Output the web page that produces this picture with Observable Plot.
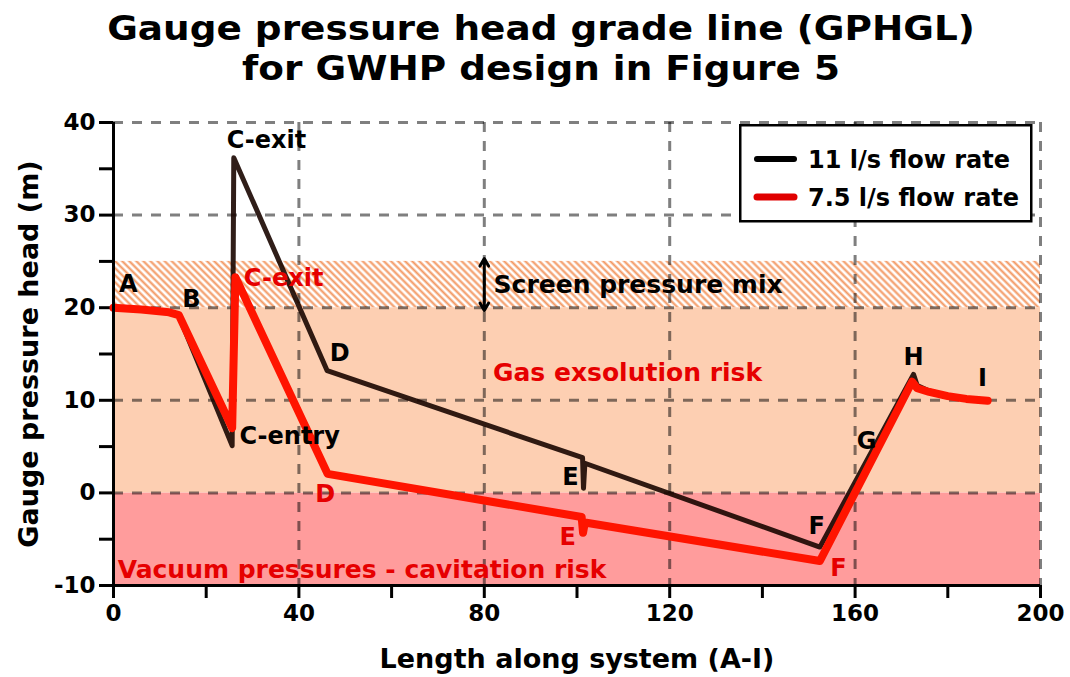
<!DOCTYPE html>
<html>
<head>
<meta charset="utf-8">
<script src="https://cdn.jsdelivr.net/npm/d3@7"></script>
<script src="https://cdn.jsdelivr.net/npm/@observablehq/plot@0.6"></script>
<style>
  body { margin: 0; background: #fff; }
  #wrap { position: relative; width: 1070px; height: 677px; font-family: "DejaVu Sans", sans-serif; font-weight: bold; color: #000; }
  #title { height: 100px; box-sizing: border-box; padding-top: 8px; padding-left: 12px; font-size: 34px; line-height: 40px; }
  #title div { text-align: center; transform: scaleX(1.1); white-space: nowrap; }
  #legend { position: absolute; left: 739px; top: 124px; }
  svg g[aria-label^="x-axis"] line, svg g[aria-label^="x-axis"] path,
  svg g[aria-label^="y-axis"] line, svg g[aria-label^="y-axis"] path { stroke: #000; stroke-width: 3px; }
</style>
</head>
<body>
<div id="wrap">
  <div id="title"><div>Gauge pressure head grade line (GPHGL)</div><div>for GWHP design in Figure 5</div></div>
  <div id="chart"></div>
  <svg id="legend" width="296" height="100" xmlns="http://www.w3.org/2000/svg"></svg>
</div>
<script>
// ---- axis domains and ticks ----
const xDomain = [0, 200];
const yDomain = [-10, 40];
const xTicks = [0, 20, 40, 60, 80, 100, 120, 140, 160, 180, 200];
const xTickLabels = ["0", "", "40", "", "80", "", "120", "", "160", "", "200"];
const yTicks = [-10, -5, 0, 5, 10, 15, 20, 25, 30, 35, 40];
const yTickLabels = ["-10", "", "0", "", "10", "", "20", "", "30", "", "40"];
const gridX = [40, 80, 120, 160, 200];
const gridY = [0, 10, 20, 30, 40];

// ---- series ----
const seriesNames = ["11 l/s flow rate", "7.5 l/s flow rate"];
const flow11X = [0, 6, 12, 14.1, 25.6, 25.95, 46.1, 101.2, 101.4, 101.7, 152.4, 172.6, 173.4, 176, 180, 184, 188.6];
const flow11Y = [20.0, 19.8, 19.5, 19.1, 5.1, 36.2, 13.2, 3.8, 0.5, 3.2, -5.85, 12.8, 11.6, 11.0, 10.5, 10.2, 10.0];
const flow75X = [0, 6, 12, 14.1, 25.6, 26.3, 46.2, 101.0, 101.3, 101.7, 152.4, 172.3, 173.4, 176, 180, 184, 188.6];
const flow75Y = [20.0, 19.8, 19.5, 19.2, 7.0, 23.3, 2.05, -2.6, -4.3, -3.2, -7.35, 12.0, 11.3, 10.9, 10.45, 10.15, 9.95];

// ---- zones ----
const zoneY1 = [-10, 0, 20];
const zoneY2 = [0, 20, 25];
const zoneFill = ["#ff9c9c", "#fdcfb2", "url(#hatch)"];

// ---- point labels ----
const labels11 = ["A", "B", "C-exit", "C-entry", "D", "E", "F", "G", "H", "I"];
const labels11X = [3.2, 16.8, 33.0, 38.0, 48.8, 98.6, 151.7, 162.5, 172.6, 187.5];
const labels11Y = [22.5, 20.9, 38.1, 6.1, 15.1, 1.7, -3.6, 5.6, 14.6, 12.4];
const labels75 = ["C-exit", "D", "E", "F"];
const labels75X = [36.7, 45.7, 98.0, 156.4];
const labels75Y = [23.2, -0.1, -4.8, -8.1];

// ---- zone notes ----
const noteGas = "Gas exsolution risk";
const noteGasX = 110.9, noteGasY = 12.9;
const noteVac = "Vacuum pressures - cavitation risk";
const noteVacX = 0.9, noteVacY = -8.3;
const noteScreen = "Screen pressure mix";
const noteScreenX = 82.0, noteScreenY = 22.5;
const arrowX = [80, 80];
const arrowFrom = [22.5, 22.5];
const arrowTo = [25.3, 19.7];

const xLabel = "Length along system (A-I)";
const yLabel = "Gauge pressure head (m)";

// ---- build tables ----
const rows11 = flow11X.map((x, i) => ({x, y: flow11Y[i]}));
const rows75 = flow75X.map((x, i) => ({x, y: flow75Y[i]}));
const lab11 = labels11.map((t, i) => ({t, x: labels11X[i], y: labels11Y[i]}));
const lab75 = labels75.map((t, i) => ({t, x: labels75X[i], y: labels75Y[i]}));
const arrows = arrowX.map((x, i) => ({x, y1: arrowFrom[i], y2: arrowTo[i]}));

const RED_LINE = "#ff1400";
const RED_TEXT = "#e60000";

const zoneMarks = zoneY1.map((y1, i) => Plot.rect([i], {
  x1: () => xDomain[0], x2: () => xDomain[1], y1: () => y1, y2: () => zoneY2[i], fill: zoneFill[i]
}));

const chart = Plot.plot({
  width: 1070, height: 577,
  marginTop: 22, marginBottom: 92, marginLeft: 113, marginRight: 30,
  style: {fontFamily: "DejaVu Sans", fontWeight: "bold", fontSize: "23px", background: "transparent", overflow: "visible", color: "#000"},
  x: {domain: xDomain, ticks: xTicks, tickFormat: d => xTickLabels[xTicks.indexOf(d)], tickSize: 13, tickPadding: 6, label: null},
  y: {domain: yDomain, ticks: yTicks, tickFormat: d => yTickLabels[yTicks.indexOf(d)], tickSize: 14, tickPadding: 4, label: null},
  marks: [
    ...zoneMarks,
    Plot.ruleX(gridX, {stroke: "#000", strokeOpacity: 0.5, strokeWidth: 3, strokeDasharray: "10,9"}),
    Plot.ruleY(gridY, {stroke: "#000", strokeOpacity: 0.5, strokeWidth: 3, strokeDasharray: "10,9"}),
    Plot.line(rows11, {x: "x", y: "y", stroke: "#1a0500", strokeOpacity: 0.9, strokeWidth: 5, strokeLinejoin: "round", strokeLinecap: "round"}),
    Plot.line(rows75, {x: "x", y: "y", stroke: RED_LINE, strokeWidth: 8, strokeLinejoin: "round", strokeLinecap: "round"}),
    Plot.text(lab11, {x: "x", y: "y", text: "t", fill: "#000", fontSize: 24, fontWeight: "bold"}),
    Plot.text(lab75, {x: "x", y: "y", text: "t", fill: RED_TEXT, fontSize: 24, fontWeight: "bold"}),
    Plot.text([noteGas], {x: () => noteGasX, y: () => noteGasY, text: d => d, fill: RED_TEXT, fontSize: 25, fontWeight: "bold"}),
    Plot.text([noteVac], {x: () => noteVacX, y: () => noteVacY, text: d => d, fill: RED_TEXT, fontSize: 25, fontWeight: "bold", textAnchor: "start"}),
    Plot.text([noteScreen], {x: () => noteScreenX, y: () => noteScreenY, text: d => d, fill: "#000", fontSize: 25, fontWeight: "bold", textAnchor: "start"}),
    Plot.arrow(arrows, {x1: "x", y1: "y1", x2: "x", y2: "y2", stroke: "#000", strokeWidth: 3, headLength: 12, headAngle: 60}),
    Plot.ruleX([xDomain[0]], {stroke: "#000", strokeWidth: 3}),
    Plot.ruleY([yDomain[0]], {stroke: "#000", strokeWidth: 3}),
    Plot.text([xLabel], {frameAnchor: "bottom", text: d => d, dy: 74, lineAnchor: "middle", textAnchor: "middle", fontSize: 27, fontWeight: "bold", fill: "#000"}),
    Plot.text([yLabel], {frameAnchor: "left", text: d => d, dx: -84, rotate: -90, lineAnchor: "middle", textAnchor: "middle", fontSize: 27, fontWeight: "bold", fill: "#000"})
  ]
});

// hatch pattern definition
const defs = document.createElementNS("http://www.w3.org/2000/svg", "defs");
defs.innerHTML = '<pattern id="hatch" patternUnits="userSpaceOnUse" width="5" height="5" patternTransform="rotate(-45)">' +
  '<rect width="5" height="5" fill="#fff"/><line x1="2.5" y1="-1" x2="2.5" y2="6" stroke="#f39862" stroke-width="2.1"/></pattern>';
chart.insertBefore(defs, chart.firstChild);
document.getElementById("chart").appendChild(chart);

// legend
const lg = document.getElementById("legend");
const swatchColors = ["#000", "#e00000"];
const swatchWidths = [6, 7];
const rowsY = [35, 73];
let html = '<rect x="1.25" y="1.25" width="291" height="96" fill="#fff" stroke="#000" stroke-width="2.5"/>';
seriesNames.forEach((name, i) => {
  html += `<line x1="18" x2="55" y1="${rowsY[i]}" y2="${rowsY[i]}" stroke="${swatchColors[i]}" stroke-width="${swatchWidths[i]}" stroke-linecap="round"/>`;
  html += `<text x="69" y="${rowsY[i] + 9}" font-family="DejaVu Sans" font-weight="bold" font-size="24" fill="#000">${name}</text>`;
});
lg.innerHTML = html;
</script>
</body>
</html>
